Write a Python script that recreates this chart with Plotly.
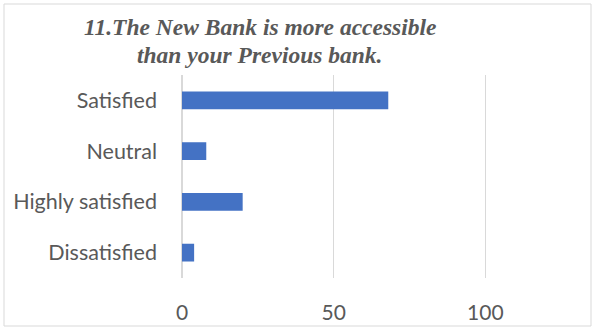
import plotly.graph_objects as go

categories = ["Satisfied", "Neutral", "Highly satisfied", "Dissatisfied"]
values = [68, 8, 20, 4]
x_ticks = [0, 50, 100]
title_lines = ["11.The New Bank is more accessible", "than your Previous bank."]

W, H = 595, 329
ml, mr, mt, mb = 182, 49, 75, 51

fig = go.Figure(go.Bar(
    x=values, y=categories, orientation="h",
    marker=dict(color="#4472C4", line=dict(width=0)),
    width=0.35,
))

fig.update_layout(
    width=W, height=H,
    margin=dict(l=ml, r=mr, t=mt, b=mb, autoexpand=False),
    paper_bgcolor="white", plot_bgcolor="white",
    showlegend=False,
    xaxis=dict(
        range=[0, 120], tickvals=x_ticks, showgrid=True, gridcolor="#d9d9d9",
        gridwidth=1, zeroline=True, zerolinecolor="#d9d9d9", zerolinewidth=2,
        showline=False, ticks="", ticklabelstandoff=20, automargin=False,
        tickfont=dict(family="Lato", size=21, color="#595959"),
    ),
    yaxis=dict(
        categoryorder="array", categoryarray=categories[::-1],
        showgrid=False, zeroline=False, showline=False, ticks="",
        ticklabelstandoff=24, automargin=False,
        tickfont=dict(family="Lato", size=21.5, color="#595959"),
    ),
)

pw = W - ml - mr
ph = H - mt - mb


def px_x(p):
    return (p - ml) / pw


def px_y(p):
    return (H - p - mb) / ph


for line, yc in zip(title_lines, [27, 55]):
    fig.add_annotation(
        text="<b><i>" + line + "</i></b>", xref="paper", yref="paper",
        x=px_x(260), y=px_y(yc), xanchor="center", yanchor="middle",
        showarrow=False,
        font=dict(family="Liberation Serif", size=23.5, color="#595959"),
    )

fig.add_shape(type="rect", xref="paper", yref="paper",
              x0=px_x(4), x1=px_x(591), y0=px_y(326), y1=px_y(4),
              line=dict(color="#d9d9d9", width=1), fillcolor="rgba(0,0,0,0)", layer="below")

fig.write_html("out.html")
